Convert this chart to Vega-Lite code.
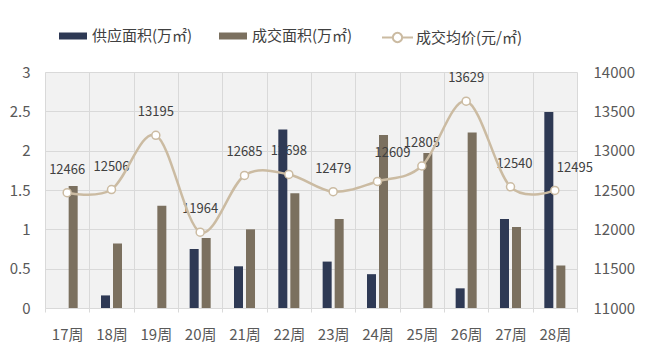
{
  "$schema": "https://vega.github.io/schema/vega-lite/v6.json",
  "width": 532,
  "height": 236,
  "autosize": {"type": "none"},
  "padding": {"left": 45, "top": 72, "right": 73, "bottom": 56},
  "background": "white",
  "config": {
    "font": "Noto Sans CJK SC",
    "view": {"fill": "#f2f2f2", "stroke": null},
    "axis": {"labelFont": "Noto Sans CJK SC", "labelFontSize": 15, "labelColor": "#595959", "ticks": false, "domain": false, "title": null}
  },
  "datasets": {
    "bars": [
      {"week": "17周", "series": "供应面积(万㎡)", "value": 0},
      {"week": "17周", "series": "成交面积(万㎡)", "value": 1.55},
      {"week": "18周", "series": "供应面积(万㎡)", "value": 0.16},
      {"week": "18周", "series": "成交面积(万㎡)", "value": 0.82},
      {"week": "19周", "series": "供应面积(万㎡)", "value": 0},
      {"week": "19周", "series": "成交面积(万㎡)", "value": 1.3},
      {"week": "20周", "series": "供应面积(万㎡)", "value": 0.75},
      {"week": "20周", "series": "成交面积(万㎡)", "value": 0.89},
      {"week": "21周", "series": "供应面积(万㎡)", "value": 0.53},
      {"week": "21周", "series": "成交面积(万㎡)", "value": 1.0},
      {"week": "22周", "series": "供应面积(万㎡)", "value": 2.27},
      {"week": "22周", "series": "成交面积(万㎡)", "value": 1.46},
      {"week": "23周", "series": "供应面积(万㎡)", "value": 0.59},
      {"week": "23周", "series": "成交面积(万㎡)", "value": 1.13},
      {"week": "24周", "series": "供应面积(万㎡)", "value": 0.43},
      {"week": "24周", "series": "成交面积(万㎡)", "value": 2.2},
      {"week": "25周", "series": "供应面积(万㎡)", "value": 0},
      {"week": "25周", "series": "成交面积(万㎡)", "value": 1.97},
      {"week": "26周", "series": "供应面积(万㎡)", "value": 0.25},
      {"week": "26周", "series": "成交面积(万㎡)", "value": 2.23},
      {"week": "27周", "series": "供应面积(万㎡)", "value": 1.13},
      {"week": "27周", "series": "成交面积(万㎡)", "value": 1.03},
      {"week": "28周", "series": "供应面积(万㎡)", "value": 2.49},
      {"week": "28周", "series": "成交面积(万㎡)", "value": 0.54}
    ],
    "price": [
      {"week": "17周", "price": 12466},
      {"week": "18周", "price": 12506},
      {"week": "19周", "price": 13195},
      {"week": "20周", "price": 11964},
      {"week": "21周", "price": 12685},
      {"week": "22周", "price": 12698},
      {"week": "23周", "price": 12479},
      {"week": "24周", "price": 12609},
      {"week": "25周", "price": 12805},
      {"week": "26周", "price": 13629},
      {"week": "27周", "price": 12540},
      {"week": "28周", "price": 12495}
    ]
  },
  "encoding": {
    "x": {
      "field": "week", "type": "ordinal",
      "scale": {"domain": ["17周", "18周", "19周", "20周", "21周", "22周", "23周", "24周", "25周", "26周", "27周", "28周"], "paddingInner": 0, "paddingOuter": 0},
      "axis": {"labelAngle": 0, "labelPadding": 15, "grid": true, "gridColor": "#d9d9d9", "tickBand": "extent", "ticks": true, "tickSize": 4, "tickColor": "#d9d9d9", "domain": true, "domainColor": "#d9d9d9"}
    }
  },
  "layer": [
    {
      "data": {"name": "price"},
      "transform": [{"filter": "datum.week !== '24周' && datum.week !== '28周' && datum.week !== '27周'"}],
      "mark": {"type": "text", "fontSize": 13, "color": "#404040", "dy": -23},
      "encoding": {
        "y": {"field": "price", "type": "quantitative", "scale": {"domain": [11000, 14000], "zero": false, "nice": false}, "axis": null},
        "text": {"field": "price", "type": "quantitative", "format": "d"}
      }
    },
    {
      "data": {"name": "price"},
      "transform": [{"filter": "datum.week === '27周'"}],
      "mark": {"type": "text", "fontSize": 13, "color": "#404040", "dy": -23, "dx": 4},
      "encoding": {
        "y": {"field": "price", "type": "quantitative", "scale": {"domain": [11000, 14000], "zero": false, "nice": false}, "axis": null},
        "text": {"field": "price", "type": "quantitative", "format": "d"}
      }
    },
    {
      "data": {"name": "price"},
      "transform": [{"filter": "datum.week === '28周'"}],
      "mark": {"type": "text", "fontSize": 13, "color": "#404040", "dy": -22, "dx": 20},
      "encoding": {
        "y": {"field": "price", "type": "quantitative", "scale": {"domain": [11000, 14000], "zero": false, "nice": false}, "axis": null},
        "text": {"field": "price", "type": "quantitative", "format": "d"}
      }
    },
    {
      "data": {"name": "bars"},
      "mark": {"type": "bar"},
      "encoding": {
        "xOffset": {"field": "series", "type": "nominal", "sort": null, "scale": {"paddingInner": 0.25, "paddingOuter": 0.97}},
        "y": {"field": "value", "type": "quantitative", "scale": {"domain": [0, 3], "nice": false},
          "axis": {"orient": "left", "values": [0, 0.5, 1, 1.5, 2, 2.5, 3], "format": "~g", "labelPadding": 15, "grid": true, "gridColor": "#d9d9d9"}},
        "color": {
          "field": "series", "type": "nominal", "sort": null,
          "scale": {"domain": ["供应面积(万㎡)", "成交面积(万㎡)"], "range": ["#2e3954", "#7b705f"]},
          "legend": {
            "orient": "none", "legendX": 14, "legendY": -50, "direction": "horizontal", "title": null,
            "symbolType": "M-1,-0.25H1V0.25H-1Z", "symbolSize": 784, "symbolStrokeWidth": 0,
            "labelFontSize": 15, "labelColor": "#404040", "labelOffset": 5, "columnPadding": 26, "padding": 0
          }
        }
      }
    },
    {
      "data": {"name": "price"},
      "transform": [{"filter": "datum.week === '24周'"}],
      "mark": {"type": "text", "fontSize": 13, "color": "#404040", "dy": -28, "dx": 15},
      "encoding": {
        "y": {"field": "price", "type": "quantitative", "scale": {"domain": [11000, 14000], "zero": false, "nice": false}, "axis": null},
        "text": {"field": "price", "type": "quantitative", "format": "d"}
      }
    },
    {
      "data": {"name": "price"},
      "mark": {"type": "line", "interpolate": "cardinal", "strokeWidth": 2.5},
      "encoding": {
        "y": {"field": "price", "type": "quantitative", "scale": {"domain": [11000, 14000], "zero": false, "nice": false},
          "axis": {"orient": "right", "values": [11000, 11500, 12000, 12500, 13000, 13500, 14000], "format": "d", "labelPadding": 16, "grid": false}},
        "stroke": {
          "datum": "成交均价(元/㎡)",
          "scale": {"range": ["#cbbba2"]},
          "legend": {
            "orient": "none", "legendX": 336, "legendY": -51, "direction": "horizontal", "title": null,
            "symbolType": "M-1,0H-0.3M0.3,0H1M-0.3,0A0.3,0.3,0,1,0,0.3,0A0.3,0.3,0,1,0,-0.3,0",
            "symbolSize": 961, "symbolStrokeWidth": 2, "symbolFillColor": "white", "symbolStrokeColor": "#cbbba2",
            "labelFontSize": 15, "labelColor": "#404040", "labelOffset": 2, "padding": 0
          }
        }
      }
    },
    {
      "data": {"name": "price"},
      "mark": {"type": "point", "filled": false, "fill": "white", "fillOpacity": 1, "stroke": "#cbbba2", "strokeWidth": 1.5, "size": 64, "opacity": 1},
      "encoding": {
        "y": {"field": "price", "type": "quantitative", "scale": {"domain": [11000, 14000], "zero": false, "nice": false}, "axis": null}
      }
    }
  ],
  "resolve": {"scale": {"y": "independent"}}
}
